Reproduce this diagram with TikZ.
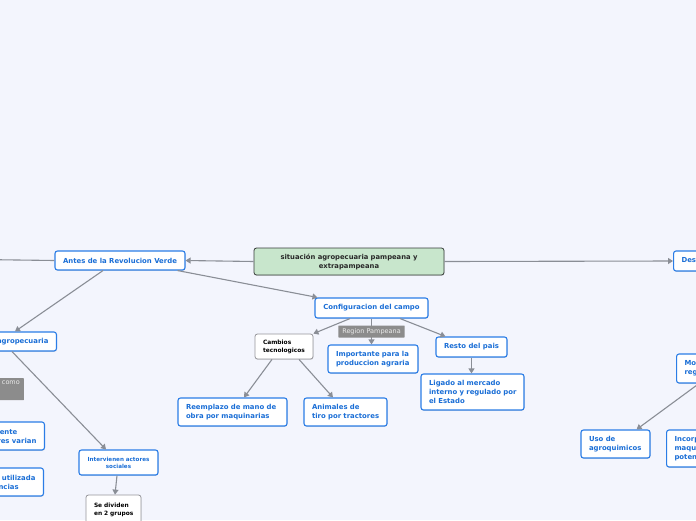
\documentclass[tikz,border=0pt]{standalone}
\usepackage{fontspec}
\setmainfont{DejaVu Sans}
\usetikzlibrary{arrows.meta,shadows}
\definecolor{bg}{RGB}{243,245,253}
\definecolor{bluec}{RGB}{43,125,230}
\definecolor{bluet}{RGB}{26,110,214}
\definecolor{linec}{RGB}{138,142,150}
\definecolor{rootfill}{RGB}{200,230,204}
\definecolor{rootdraw}{RGB}{55,60,58}
\definecolor{roottext}{RGB}{40,40,40}
\definecolor{labgray}{RGB}{140,140,140}
\definecolor{labtext}{RGB}{235,235,235}
\definecolor{graydraw}{RGB}{150,150,155}
\newcommand\oneline[1]{\mbox{#1}}
\begin{document}
\begin{tikzpicture}[x=1pt,y=-1pt,
 box/.style={rounded corners=2.5pt, inner xsep=8pt, inner ysep=0pt, align=left,
   drop shadow={shadow xshift=0.4pt,shadow yshift=-0.7pt,opacity=0.18,fill=black}},
 bluebox/.style={box, draw=bluec, line width=1.1pt, fill=white, text=bluet, font=\bfseries\fontsize{6.9}{9}\selectfont},
 graybox/.style={box, draw=graydraw, line width=0.8pt, fill=white, text=black, font=\bfseries\fontsize{5.9}{8}\selectfont},
 rootbox/.style={box, draw=rootdraw, line width=0.8pt, fill=rootfill, text=roottext, font=\bfseries\fontsize{6.8}{9}\selectfont, align=center},
 lab/.style={fill=labgray, text=labtext, font=\fontsize{6.5}{8}\selectfont, inner xsep=4pt, inner ysep=0pt, rounded corners=0.5pt},
 conn/.style={draw=linec, line width=1.1pt},
 arr/.style={conn, -{Triangle[width=6pt,length=5pt]}}
]
\clip (0,0) rectangle (696,520);
\fill[bg] (0,0) rectangle (696,520);

% nodes
\node[rootbox, minimum width=190pt, minimum height=27pt, text width=174pt] (root) at (349,261.5) {\oneline{situación agropecuaria pampeana y}\\extrapampeana};
\node[bluebox, minimum width=130pt, minimum height=19pt, align=center] (antes) at (120,260.5) {Antes de la Revolucion Verde};
\node[bluebox, minimum width=113pt, minimum height=20pt, align=center] (config) at (371.5,308) {Configuracion del campo};
\node[bluebox, minimum height=19pt, anchor=east] (agro) at (57,341.5) {Actividad agropecuaria};
\node[graybox, minimum width=58pt, minimum height=25pt, text width=42pt] (cambios) at (284,346.5) {\oneline{Cambios}\\\oneline{tecnologicos}};
\node[bluebox, minimum width=90pt, minimum height=28pt, text width=74pt] (imp) at (373,359) {\oneline{Importante para la}\\\oneline{produccion agraria}};
\node[bluebox, minimum width=71pt, minimum height=20pt, align=center] (resto) at (471.5,347) {Resto del pais};
\node[bluebox, minimum width=103pt, minimum height=36pt, text width=87pt] (ligado) at (472.5,392) {\oneline{Ligado al mercado}\\\oneline{interno y regulado por}\\\oneline{el Estado}};
\node[bluebox, minimum width=109pt, minimum height=28pt, text width=93pt] (reemp) at (232.5,412) {\oneline{Reemplazo de mano de}\\\oneline{obra por maquinarias}};
\node[bluebox, minimum width=83pt, minimum height=28pt, text width=67pt] (anim) at (345.5,412) {\oneline{Animales de}\\\oneline{tiro por tractores}};
\node[bluebox, font=\bfseries\fontsize{5.6}{7}\selectfont, minimum width=79pt, minimum height=25pt, text width=63pt, align=center] (interv) at (118.5,462.5) {\oneline{Intervienen actores}\\sociales};
\node[graybox, minimum width=55pt, minimum height=30pt, text width=39pt] (sediv) at (113.5,510) {\oneline{Se dividen}\\\oneline{en 2 grupos}};
\node[lab, anchor=north east, minimum width=40pt, minimum height=22pt] (como) at (24,378) {};
\node[font=\fontsize{6.5}{8}\selectfont, text=labtext, anchor=north east, inner sep=0pt] (comotxt) at (20,381) {como};
\node[bluebox, minimum height=28pt, anchor=east] (dif) at (45,436) {Diferente\\actores varian};
\node[bluebox, minimum height=28pt, anchor=east] (util) at (44,482) {Mayor utilizada\\Tendencias};
\node[bluebox, minimum height=20pt, anchor=west] (des) at (673,261) {Despues de la Revolucion Verde};
\node[bluebox, minimum height=29pt, anchor=west] (mo) at (676,368.5) {Modelos\\regionales};
\node[bluebox, minimum width=69pt, minimum height=28pt, text width=53pt] (uso) at (615.5,444) {\oneline{Uso de}\\\oneline{agroquimicos}};
\node[bluebox, minimum height=37pt, anchor=west] (inc) at (666,448.5) {Incorporacion de\\maquinarias mas\\potentes};
\coordinate (offl) at (-20,259.5);

% connectors
\draw[arr] (root.west) -- (antes.east);
\draw[conn] (antes.west) -- (offl);
\draw[arr] (root.east) -- (des.west);
\draw[arr] ([xshift=-8pt]antes.south east) -- ([xshift=3pt]config.north west);
\draw[arr] ([xshift=-17pt]antes.south) -- ([xshift=-42pt]agro.north east);
\draw[arr] ([xshift=-21.5pt]config.south) -- (cambios.north east);
\draw[arr] (config.south) -- node[lab, minimum height=12pt, minimum width=66pt] (region) {Region Pampeana} (config.south |- imp.north);
\draw[arr] ([xshift=28.5pt]config.south) -- ([xshift=10pt]resto.north west);
\draw[arr] (resto.south) -- (resto.south |- ligado.north);
\draw[arr] ([xshift=-12pt]cambios.south) -- ([xshift=11.5pt]reemp.north);
\draw[arr] ([xshift=15pt]cambios.south) -- ([xshift=-12.5pt]anim.north);
\draw[arr] ([xshift=-45pt]agro.south east) -- ([xshift=-12.5pt]interv.north);
\draw[arr] ([xshift=-1.5pt]interv.south) -- ([xshift=1.5pt]sediv.north);
\draw[arr] ([xshift=23pt]mo.south west) -- ([xshift=-14pt]uso.north east);
\end{tikzpicture}
\end{document}
